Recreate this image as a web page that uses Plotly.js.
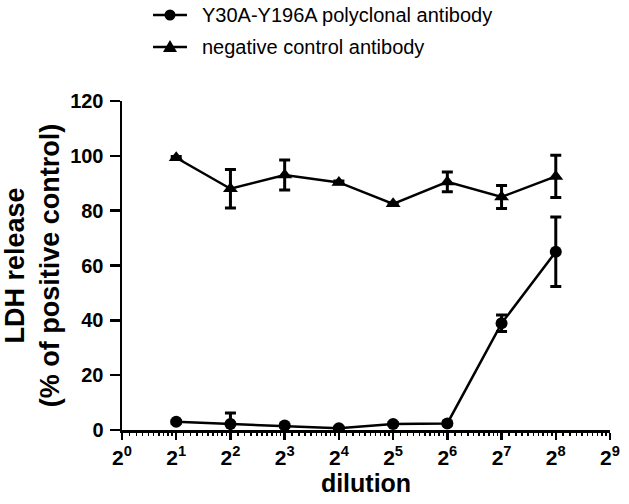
<!DOCTYPE html>
<html>
<head>
<meta charset="utf-8">
<script src="https://cdn.plot.ly/plotly-3.0.1.min.js"></script>
<style>html,body{margin:0;padding:0;background:#fff;}#chart{width:629px;height:504px;}</style>
</head>
<body>
<div id="chart"></div>
<script>
// Dilution factors (2^1 .. 2^8)
const dilution = [2, 4, 8, 16, 32, 64, 128, 256];

// Y30A-Y196A polyclonal antibody (circles)
const polyName = "Y30A-Y196A polyclonal antibody";
const polyMean = [3.0, 2.2, 1.6, 0.6, 2.2, 2.4, 38.9, 65.0];
const polyErr  = [0.5, 4.0, 0.5, 0.5, 0.5, 0.5, 3.0, 12.7];

// negative control antibody (triangles)
const negName = "negative control antibody";
const negMean = [99.3, 88.0, 93.0, 90.3, 82.5, 90.5, 85.0, 92.5];
const negErr  = [0.5, 7.0, 5.5, 0.5, 0.5, 3.6, 4.2, 7.7];

// Axis ticks
const xTickVals = [1, 2, 4, 8, 16, 32, 64, 128, 256, 512];
const xTickText = ["2<sup>0</sup>","2<sup>1</sup>","2<sup>2</sup>","2<sup>3</sup>","2<sup>4</sup>","2<sup>5</sup>","2<sup>6</sup>","2<sup>7</sup>","2<sup>8</sup>","2<sup>9</sup>"];
const yTickVals = [0, 20, 40, 60, 80, 100, 120];

// minor ticks inside each octave
const xMinor = [];
for (let i = 0; i < xTickVals.length - 1; i++) {
  for (let k = 1; k < 10; k++) xMinor.push(xTickVals[i] * (1 + k / 10));
}

const FONT = "Liberation Sans, Arial, sans-serif";

// plot area geometry (px) used to place the hand-drawn legend
const M = {l: 122, r: 19, t: 101, b: 74};
const W = 629, H = 504;
const pw = W - M.l - M.r, ph = H - M.t - M.b;
const px = v => (v - M.l) / pw;
const py = v => (H - M.b - v) / ph;

const traces = [
  {
    x: dilution, y: polyMean, name: polyName, type: "scatter", mode: "lines+markers",
    line: {color: "#000", width: 2.5},
    marker: {symbol: "circle", size: 12, color: "#000"},
    error_y: {type: "data", array: polyErr, visible: true, color: "#000", thickness: 3, width: 5.5}
  },
  {
    x: dilution, y: negMean, name: negName, type: "scatter", mode: "lines+markers",
    line: {color: "#000", width: 2.5},
    marker: {symbol: "triangle-up", size: 13, color: "#000"},
    error_y: {type: "data", array: negErr, visible: true, color: "#000", thickness: 3, width: 5.5}
  }
];

// legend (drawn by hand: line + symbol + text)
const legRows = [{name: polyName, y: 15, sym: "circle"}, {name: negName, y: 47, sym: "triangle"}];
const shapes = [], annotations = [];
legRows.forEach(r => {
  shapes.push({type: "line", xref: "paper", yref: "paper", x0: px(153), x1: px(187), y0: py(r.y), y1: py(r.y),
               line: {color: "#000", width: 2.5}});
  if (r.sym === "circle") {
    shapes.push({type: "circle", xref: "paper", yref: "paper", x0: px(164.5), x1: px(175.5), y0: py(r.y + 5.5), y1: py(r.y - 5.5),
                 fillcolor: "#000", line: {color: "#000", width: 0}});
  } else {
    shapes.push({type: "path", xref: "paper", yref: "paper",
                 path: `M ${px(163)} ${py(r.y + 5)} L ${px(177)} ${py(r.y + 5)} L ${px(170)} ${py(r.y - 7)} Z`,
                 fillcolor: "#000", line: {color: "#000", width: 0}});
  }
  annotations.push({xref: "paper", yref: "paper", x: px(200), y: py(r.y), xanchor: "left", yanchor: "middle",
                    text: r.name, showarrow: false, font: {family: FONT, size: 20, color: "#000"}});
});

const layout = {
  width: W, height: H,
  margin: M,
  paper_bgcolor: "#fff", plot_bgcolor: "#fff",
  showlegend: false,
  shapes: shapes,
  annotations: annotations,
  xaxis: {
    type: "log",
    range: [0, Math.log10(512)],
    tickvals: xTickVals, ticktext: xTickText,
    ticks: "outside", ticklen: 7, tickwidth: 2.5, tickcolor: "#000",
    minor: {tickvals: xMinor, ticks: "outside", ticklen: 3, tickwidth: 1.5, tickcolor: "#000", showgrid: false},
    showline: true, linecolor: "#000", linewidth: 2.5,
    showgrid: false, zeroline: false,
    tickfont: {family: FONT, size: 21, color: "#000", weight: "bold"},
    title: {text: "dilution", font: {family: FONT, size: 25, color: "#000", weight: "bold"}, standoff: 6}
  },
  yaxis: {
    range: [0, 120],
    tickvals: yTickVals,
    ticks: "outside", ticklen: 10, tickwidth: 2.5, tickcolor: "#000",
    ticklabelstandoff: 2,
    showline: true, linecolor: "#000", linewidth: 2.5,
    showgrid: false, zeroline: false,
    tickfont: {family: FONT, size: 20, color: "#000", weight: "bold"},
    title: {text: "LDH release<br>(% of positive control)", font: {family: FONT, size: 27, color: "#000", weight: "bold"}, standoff: 8}
  }
};

Plotly.newPlot("chart", traces, layout, {displayModeBar: false, staticPlot: true});
</script>
</body>
</html>
